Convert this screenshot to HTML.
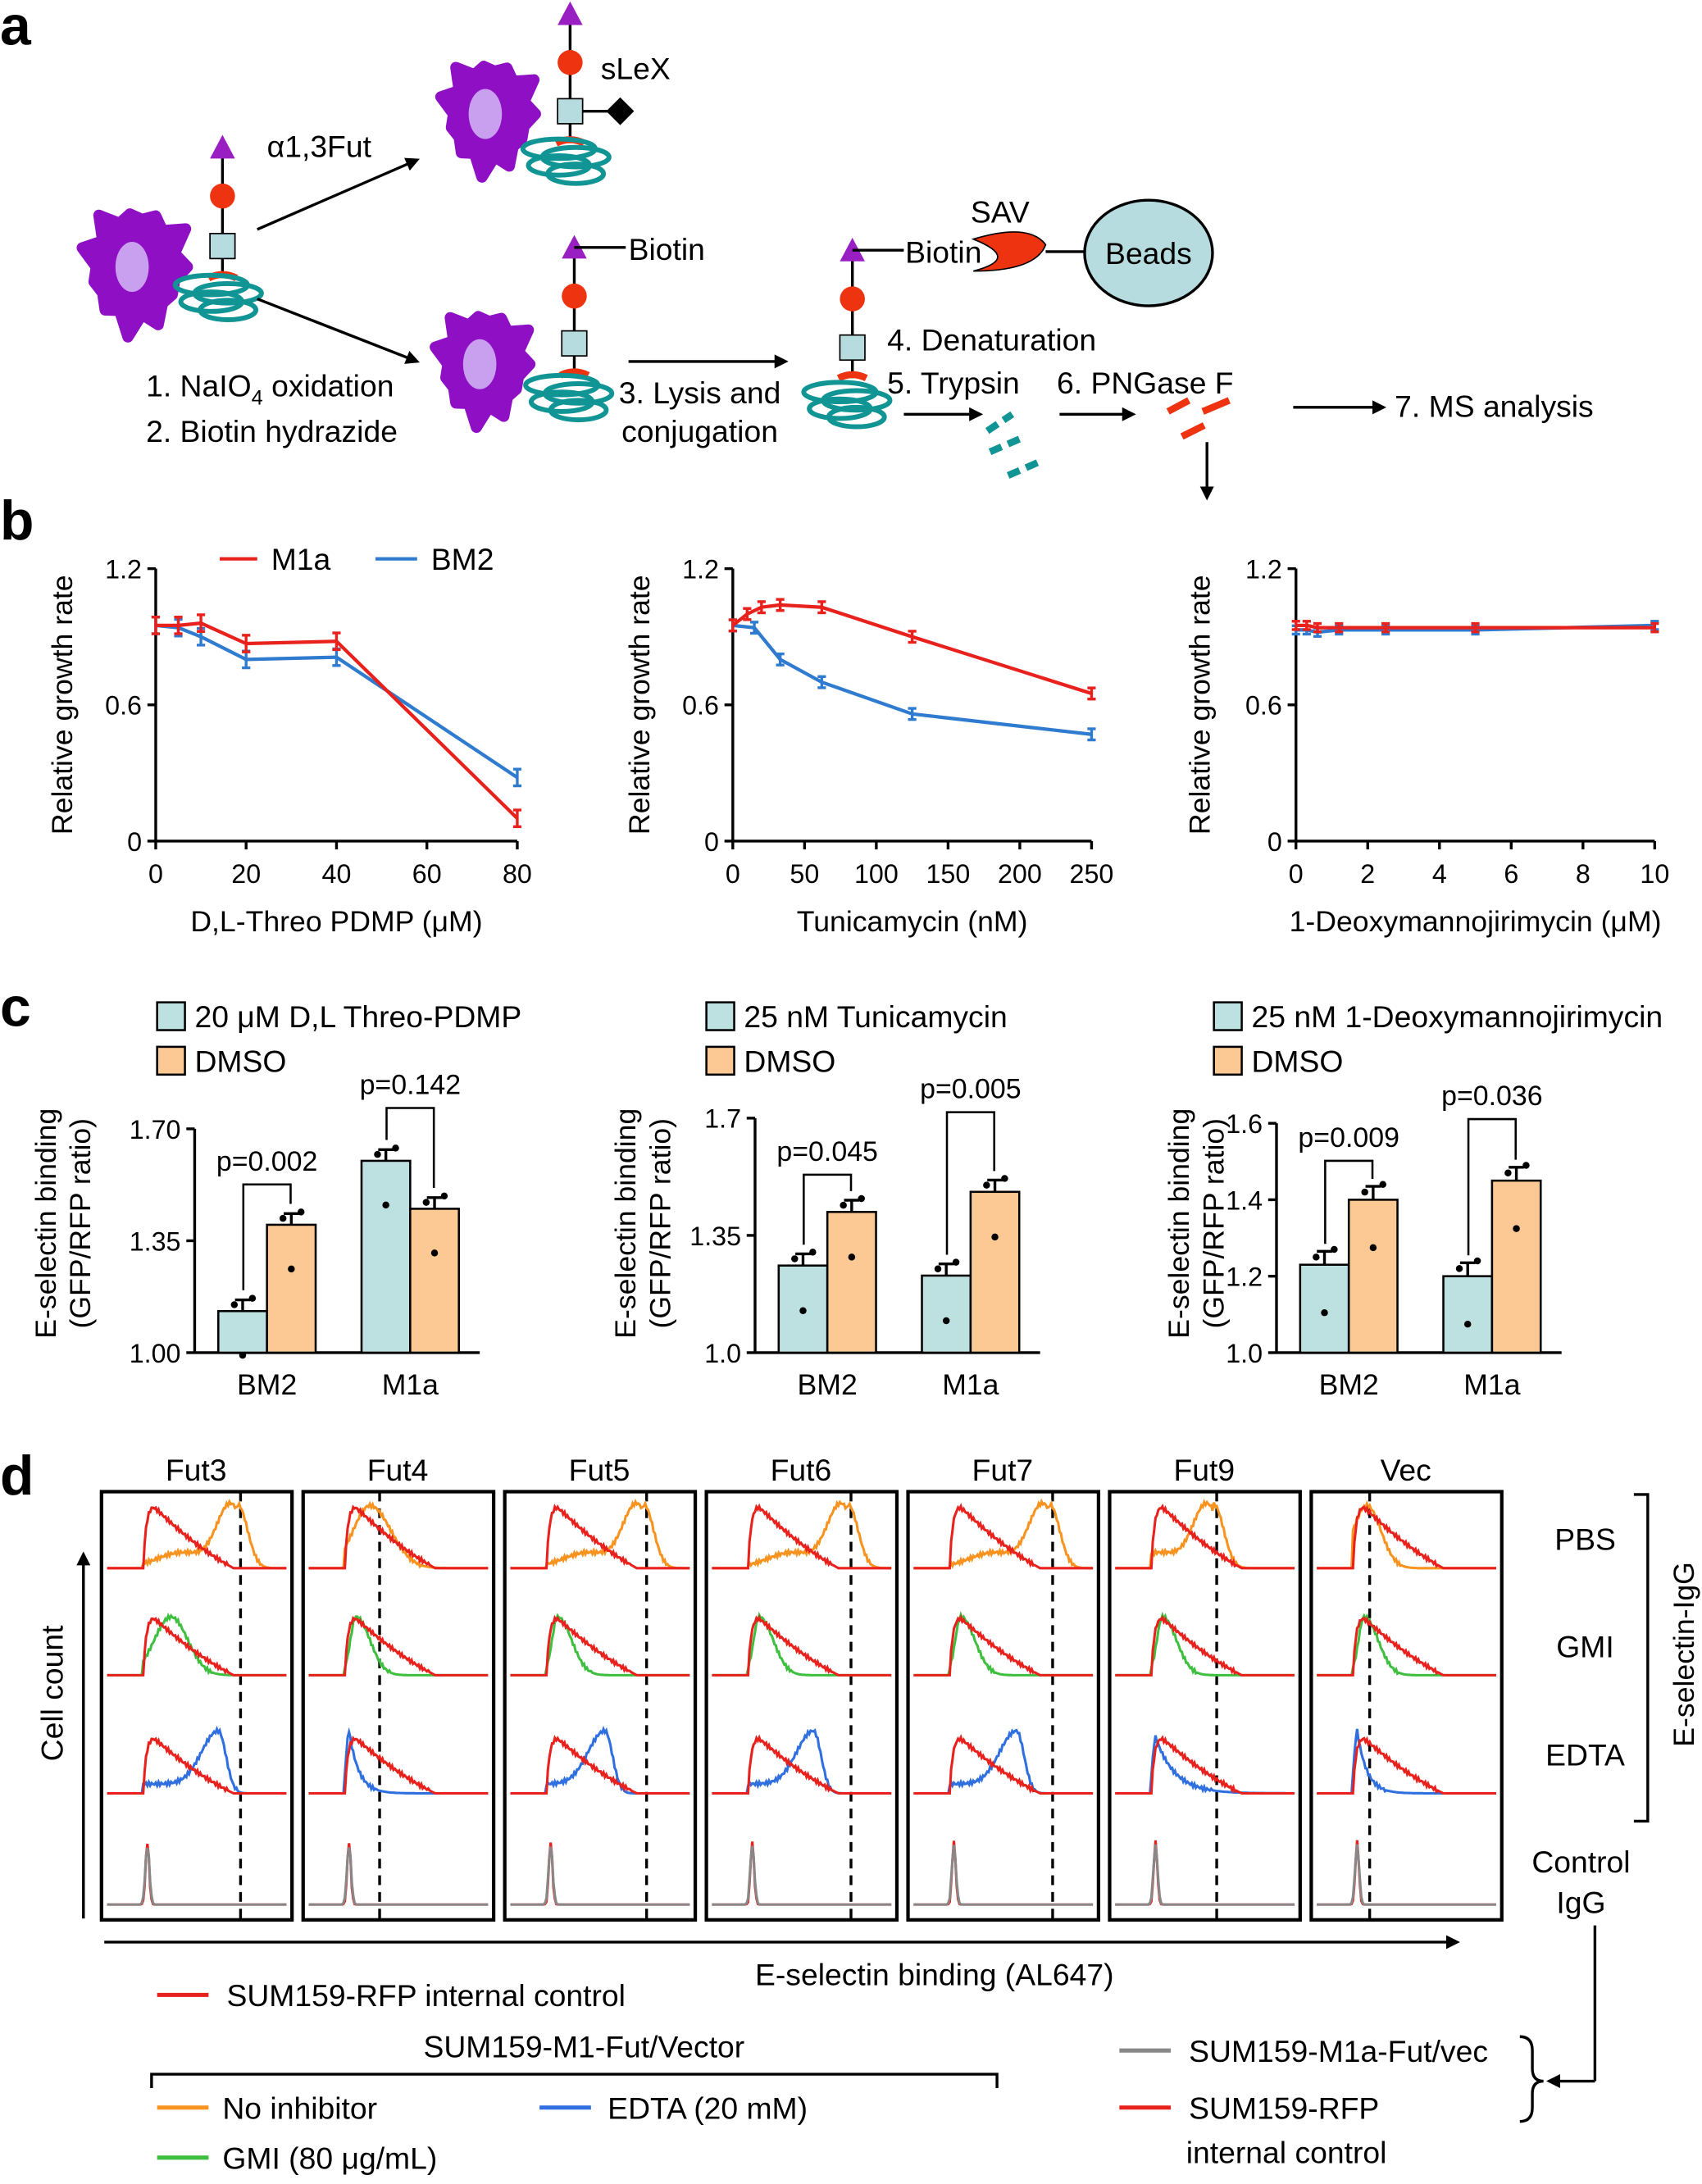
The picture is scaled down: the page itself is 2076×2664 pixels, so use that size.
<!DOCTYPE html>
<html><head><meta charset="utf-8"><style>
html,body{margin:0;padding:0;background:#fff;}
svg{display:block;font-family:"Liberation Sans",sans-serif;}
</style></head><body>
<svg id="s" xmlns="http://www.w3.org/2000/svg" width="2076" height="2664" viewBox="0 0 1224 1571" preserveAspectRatio="none">
<defs><marker id="ah" markerWidth="10" markerHeight="10" refX="8" refY="5" orient="auto" markerUnits="userSpaceOnUse"><path d="M0,0 L10,5 L0,10 z" fill="#000"/></marker></defs>
<g font-size="22" fill="#000">
<text x="0" y="32" font-size="40" font-weight="bold">a</text>
<text x="0" y="388" font-size="40" font-weight="bold">b</text>
<text x="0" y="738" font-size="40" font-weight="bold">c</text>
<text x="0" y="1075" font-size="40" font-weight="bold">d</text>
<text x="192" y="113">α1,3Fut</text>
<text x="432" y="57">sLeX</text>
<text x="452" y="187">Biotin</text>
<text x="651" y="189">Biotin</text>
<text x="698" y="160">SAV</text>
<text x="105" y="285">1. NaIO<tspan font-size="15" dy="6">4</tspan><tspan dy="-6"> oxidation</tspan></text>
<text x="105" y="318">2. Biotin hydrazide</text>
<text x="445" y="290">3. Lysis and</text>
<text x="447" y="318">conjugation</text>
<text x="638" y="252">4. Denaturation</text>
<text x="638" y="283">5. Trypsin</text>
<text x="760" y="283">6. PNGase F</text>
<text x="1003" y="300">7. MS analysis</text>
</g>
<g id="g"></g>
</svg>
<script>
var g=document.getElementById('g');var H='';
function L(x1,y1,x2,y2,c,w,ex){H+='<line x1="'+x1+'" y1="'+y1+'" x2="'+x2+'" y2="'+y2+'" stroke="'+(c||'#000')+'" stroke-width="'+(w||2)+'" '+(ex||'')+'/>';}
function T(x,y,t,sz,anc,ex){H+='<text x="'+x+'" y="'+y+'" font-size="'+(sz||22)+'" text-anchor="'+(anc||'start')+'" '+(ex||'')+'>'+t+'</text>';}
function A(x1,y1,x2,y2){L(x1,y1,x2,y2,'#000',2,'marker-end="url(#ah)"');}
function cell(cx,cy,r){var p='';var n=11;for(var i=0;i<n*2;i++){var a=i*Math.PI/n;var rr=(i%2?r*0.72:r*(0.92+0.15*Math.sin(i*2.3)));p+=(cx+rr*Math.cos(a)).toFixed(1)+','+(cy+rr*Math.sin(a)*1.2).toFixed(1)+' ';}
H+='<polygon points="'+p+'" fill="#8e0fc4" stroke="#8e0fc4" stroke-width="8" stroke-linejoin="round"/>';H+='<ellipse cx="'+(cx-3)+'" cy="'+cy+'" rx="12" ry="18" fill="#c9a0f0"/>';}
function prot(cx,cy){for(var i=0;i<4;i++){H+='<ellipse cx="'+(cx+(i%2?6:-6))+'" cy="'+(cy-8+i*6)+'" rx="'+(26-i*2)+'" ry="7" fill="none" stroke="#119494" stroke-width="3.5"/>';}}
function glycan(x,yt,ys,yr){L(x,yt,x,yr,'#000',2);H+='<polygon points="'+(x-9)+','+(yt+8)+' '+(x+9)+','+(yt+8)+' '+x+','+(yt-9)+'" fill="#9a1fc2"/>';
H+='<circle cx="'+x+'" cy="'+(yt+35)+'" r="9" fill="#ee3311"/>';H+='<rect x="'+(x-9)+'" y="'+(ys-9)+'" width="18" height="18" fill="#b7dcdf" stroke="#000" stroke-width="1"/>';
H+='<path d="M'+(x-10)+','+yr+' Q'+x+','+(yr-5)+' '+(x+10)+','+yr+'" stroke="#ee3311" stroke-width="5" fill="none"/>';}
cell(98,192,40);glycan(160,106,177,200);prot(158,213);
cell(352,82,36);glycan(410,10,80,103);prot(408,115);L(419,80,440,80);H+='<polygon points="446,70 456,80 446,90 436,80" fill="#000"/>';
cell(348,262,36);glycan(413,178,247,270);prot(410,285);L(413,178,450,178);
glycan(613,180,250,272);prot(610,290);L(613,180,650,180);
A(185,165,300,115);A(185,215,300,260);A(452,260,565,260);A(650,298,705,298);A(762,298,815,298);A(930,293,995,293);A(868,318,868,358);
H+='<path d="M700,172 Q740,160 752,176 Q745,195 700,195 Q735,186 700,172z" fill="#ee3311" stroke="#000" stroke-width="1"/>';
L(752,181,780,181);H+='<ellipse cx="826" cy="182" rx="46" ry="38" fill="#b7dcdf" stroke="#000" stroke-width="2"/>';
T(826,190,'Beads',22,'middle');
[[710,310,728,298],[712,325,735,315],[725,342,748,332]].forEach(function(d){L(d[0],d[1],d[2],d[3],'#119494',5,'stroke-dasharray="9,5"');});
L(840,296,855,288,'#ee3311',5);L(865,296,884,288,'#ee3311',5);L(850,314,866,306,'#ee3311',5);
function bplot(x0,x1,xmax,xt,lab,red,blue,ylx,err){var y=function(v){return 605-v*163.3};var X=function(v){return x0+(x1-x0)*v/xmax};
L(x0,409,x0,605);L(x0,605,x1,605);
[0,0.6,1.2].forEach(function(v){L(x0-6,y(v),x0,y(v));T(x0-10,y(v)+7,v==0?'0':v,19,'end');});
xt.forEach(function(v){L(X(v),605,X(v),611);T(X(v),635,v,19,'middle');});
T((x0+x1)/2,670,lab,21,'middle');
H+='<text transform="translate('+ylx+',507) rotate(-90)" font-size="21" text-anchor="middle">Relative growth rate</text>';
[[blue,'#2f7bd0'],[red,'#e8211d']].forEach(function(s){var p='';s[0].forEach(function(d,i){p+=(i?'L':'M')+X(d[0])+','+y(d[1]);L(X(d[0]),y(d[1])-err,X(d[0]),y(d[1])+err,s[1],2);L(X(d[0])-3,y(d[1])-err,X(d[0])+3,y(d[1])-err,s[1],2);L(X(d[0])-3,y(d[1])+err,X(d[0])+3,y(d[1])+err,s[1],2);});H+='<path d="'+p+'" fill="none" stroke="'+s[1]+'" stroke-width="2.5"/>';});}
bplot(112,372,80,[0,20,40,60,80],'D,L-Threo PDMP (μM)',[[0,.95],[5,.95],[10,.96],[20,.87],[40,.88],[80,.1]],[[0,.95],[5,.94],[10,.9],[20,.8],[40,.81],[80,.28]],52,6);
bplot(527,785,250,[0,50,100,150,200,250],'Tunicamycin (nM)',[[0,.95],[10,1.0],[20,1.03],[33,1.04],[62,1.03],[125,.9],[250,.65]],[[0,.95],[15,.94],[33,.8],[62,.7],[125,.56],[250,.47]],467,4);
bplot(932,1190,10,[0,2,4,6,8,10],'1-Deoxymannojirimycin (μM)',[[0,.95],[.3,.95],[.6,.94],[1.2,.94],[2.5,.94],[5,.94],[10,.94]],[[0,.93],[.3,.93],[.6,.92],[1.2,.93],[2.5,.93],[5,.93],[10,.95]],870,3);
L(158,402,185,402,'#e8211d',2.5);T(195,410,'M1a',22);L(270,402,300,402,'#2f7bd0',2.5);T(310,410,'BM2',22);
function cplot(ax,ticks,labs,ymin,scale,bars,legx,leg1,pv,ylx){var y=function(v){return 973-(v-ymin)*scale};
L(ax,y(ticks[ticks.length-1]),ax,973);L(ax,973,ax+205,973);
ticks.forEach(function(v,k){L(ax-6,y(v),ax,y(v));T(ax-10,y(v)+7,labs[k],19,'end');});
bars.forEach(function(b,i){var x=ax+17+(i>1?103:0)+(i%2)*35;H+='<rect x="'+x+'" y="'+y(b)+'" width="35" height="'+(973-y(b))+'" fill="'+(i%2?'#fcc894':'#bde0e0')+'" stroke="#000" stroke-width="1.5"/>';
var e=0.035*scale;L(x+17.5,y(b)-e,x+17.5,y(b));L(x+12,y(b)-e,x+23,y(b)-e);
[[-6,0.02],[0,-0.06],[7,0.04]].forEach(function(d,k){H+='<circle cx="'+(x+17.5+d[0])+'" cy="'+(y(b+d[1])+(k==1?18:0))+'" r="2.5" fill="#000"/>';});});
T(ax+52,1003,'BM2',21,'middle');T(ax+155,1003,'M1a',21,'middle');
pv.forEach(function(p,i){var cx=ax+52+i*103;var top=p[1];H+='<path d="M'+(cx-17)+','+(y(bars[i*2])-15)+' L'+(cx-17)+','+top+' L'+(cx+17)+','+top+' L'+(cx+17)+','+(y(bars[i*2+1])-15)+'" fill="none" stroke="#000" stroke-width="1.5"/>';T(cx,top-10,p[0],20,'middle');});
H+='<rect x="'+legx+'" y="721" width="20" height="20" fill="#bde0e0" stroke="#000" stroke-width="1.5"/>';T(legx+27,739,leg1,22);
H+='<rect x="'+legx+'" y="753" width="20" height="20" fill="#fcc894" stroke="#000" stroke-width="1.5"/>';T(legx+27,771,'DMSO',22);
H+='<text transform="translate('+ylx+',880) rotate(-90)" font-size="21" text-anchor="middle">E-selectin binding</text>';
H+='<text transform="translate('+(ylx+25)+',880) rotate(-90)" font-size="21" text-anchor="middle">(GFP/RFP ratio)</text>';}
cplot(140,[1.00,1.35,1.70],['1.00','1.35','1.70'],1,230,[1.13,1.40,1.60,1.45],113,'20 μM D,L Threo-PDMP',[['p=0.002',852],['p=0.142',797]],40);
cplot(543,[1.0,1.35,1.7],['1.0','1.35','1.7'],1,241,[1.26,1.42,1.23,1.48],508,'25 nM Tunicamycin',[['p=0.045',845],['p=0.005',800]],457);
cplot(918,[1.0,1.2,1.4,1.6],['1.0','1.2','1.4','1.6'],1,275,[1.23,1.40,1.20,1.45],873,'25 nM 1-Deoxymannojirimycin',[['p=0.009',835],['p=0.036',805]],855);
var names=['Fut3','Fut4','Fut5','Fut6','Fut7','Fut9','Vec'];var bxs=[73,218,363,508,653,798,943];var dash=[100,55,102,104,104,77,42];
function gs(x,m,s){return Math.exp(-(x-m)*(x-m)/(2*s*s));}
function curve(bx,base,f,col,amp){var p='';for(var o=4;o<=133;o+=1){var v=f(o);var n=(v>0.05)?Math.sin(o*2.7+bx)*0.03:0;p+=(o==4?'M':'L')+(bx+o)+','+(base-amp*(v+n)).toFixed(1);}H+='<path d="'+p+'" fill="none" stroke="'+col+'" stroke-width="1.8"/>';}
function step(o,s){return o<s?0:1;}
var redf=function(o){var t=o-37;return step(o,30)*(1-Math.exp(-(o-30)/2))*(t<0?1:Math.max(0,1-t/58)*(1-0.3*t/58));};
for(var i=0;i<7;i++){var bx=bxs[i],d=dash[i];
H+='<rect x="'+bx+'" y="1073" width="137" height="308" fill="none" stroke="#000" stroke-width="2.5"/>';
T(bx+68,1065,names[i],22,'middle');
L(bx+d,1073,bx+d,1381,'#000',2,'stroke-dasharray="7,5"');
var of;if(i==1)of=function(o){return step(o,30)*(gs(o,48,12)*(o<48?1:gs(o,48,15)/gs(o,48,12)));};
else if(i==6)of=function(o){return step(o,30)*gs(o,40,10);};
else {(function(dd){of=function(o){return step(o,30)*(0.25*gs(o,dd-40,18)+(o<dd?gs(o,dd-5,10):gs(o,dd,7)));};})(d-2);}
curve(bx,1128,of,'#f7931e',45);curve(bx,1128,redf,'#e8211d',45);
var gf=(i==0)?function(o){return step(o,30)*gs(o,50,12);}:function(o){return step(o,30)*gs(o,38,(o<38?4:10));};
curve(bx,1205,gf,'#3fbf3f',42);curve(bx,1205,redf,'#e8211d',42);
var bp=[84,0,72,77,78,0,0][i];var ef;
if(bp){(function(bp){ef=function(o){return step(o,30)*(0.15+0.85*gs(o,bp,12))*(o<bp?1:gs(o,bp,6));};})(bp);}
else ef=function(o){return step(o,30)*(o<33?gs(o,33,2):Math.exp(-(o-33)/(i==5?14:7)))*(i==5?0.9:1);};
curve(bx,1290,ef,'#2f6fe0',45);curve(bx,1290,function(o){return 0.9*redf(o);},'#e8211d',45);
curve(bx,1370,function(o){return gs(o,33,1.3);},'#e8211d',45);curve(bx,1370,function(o){return gs(o,33,1.5);},'#888',42);
}
T(1140,1115,'PBS',22,'middle');T(1140,1192,'GMI',22,'middle');T(1140,1270,'EDTA',22,'middle');T(1137,1347,'Control',22,'middle');T(1137,1376,'IgG',22,'middle');
H+='<path d="M1175,1075 L1185,1075 L1185,1310 L1175,1310" fill="none" stroke="#000" stroke-width="2"/>';
H+='<text transform="translate(1218,1190) rotate(-90)" font-size="21" text-anchor="middle">E-selectin-IgG</text>';
A(60,1380,60,1118);H+='<text transform="translate(45,1218) rotate(-90)" font-size="22" text-anchor="middle">Cell count</text>';
A(75,1397,1048,1397);T(672,1428,'E-selectin binding (AL647)',22,'middle');
L(113,1435,150,1435,'#e8211d',3);T(163,1443,'SUM159-RFP internal control',22);
T(420,1480,'SUM159-M1-Fut/Vector',22,'middle');H+='<path d="M109,1502 L109,1492 L717,1492 L717,1502" fill="none" stroke="#000" stroke-width="2"/>';
L(113,1516,150,1516,'#f7931e',3);T(160,1524,'No inhibitor',22);L(388,1516,425,1516,'#2f6fe0',3);T(437,1524,'EDTA (20 mM)',22);
L(113,1552,150,1552,'#3fbf3f',3);T(160,1560,'GMI (80 μg/mL)',22);
L(805,1475,842,1475,'#888',3);T(855,1483,'SUM159-M1a-Fut/vec',22);L(805,1516,842,1516,'#e8211d',3);T(855,1524,'SUM159-RFP',22);T(853,1556,'internal control',22);
H+='<path d="M1093,1465 Q1102,1465 1102,1475 L1102,1488 Q1102,1497 1110,1497 Q1102,1497 1102,1506 L1102,1516 Q1102,1526 1093,1526" fill="none" stroke="#000" stroke-width="2"/>';
L(1147,1385,1147,1497);A(1147,1497,1114,1497);
g.innerHTML=H;
</script>
</body></html>
